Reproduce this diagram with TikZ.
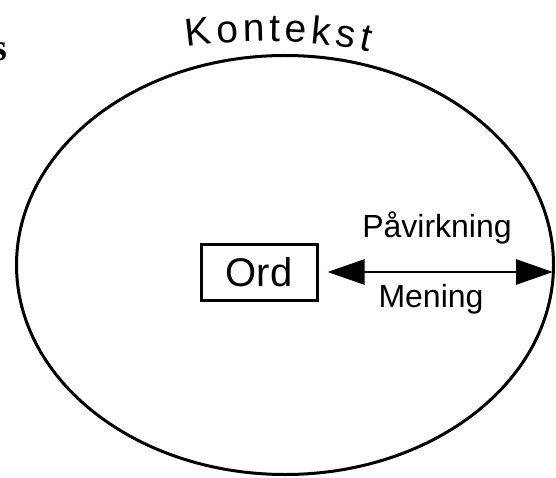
\documentclass[tikz,border=0pt]{standalone}
\usepackage{fontspec}
\setmainfont{Liberation Sans}
\newfontfamily\cutfont{Liberation Serif}
\newcommand\arcfont{\fontsize{39}{42}\selectfont}
\usepackage{tikz}
\usetikzlibrary{shapes.geometric,arrows.meta,decorations.text}

\begin{document}
\begin{tikzpicture}[x=1pt,y=1pt,
    lbl/.style={font=\fontsize{32}{35}\selectfont, inner sep=0pt},
    twoway/.style={{Triangle[length=37pt,width=25pt]}-{Triangle[length=37pt,width=25pt]}, line width=2.5pt}]
    \useasboundingbox (0,0) rectangle (556,477);

    % Draw the context ellipse and the word box
    \node[ellipse, draw, line width=3pt, inner sep=0pt,
          minimum width=537, minimum height=419] (ctx) at (285,212) {};
    \node[draw, line width=3pt, minimum width=116, minimum height=56,
          font=\fontsize{40}{44}\selectfont] (ord) at (259,205) {Ord};

    % Add the arrow between word and context
    \draw[twoway, shorten <=9pt, shorten >=2pt] (ord.east) -- (ord.east -| ctx.east);

    % Add labels
    \node[lbl, anchor=base] (pav) at (437,240) {Påvirkning};
    \node[lbl, anchor=base] (men) at (431,170) {Mening};
    \path[decorate, decoration={text along path, text align={fit to path},
          text format delimiters={[}{]},
          text={[\arcfont]Kontekst}}]
        (187,430) .. controls (245,438) and (315,438) .. (369,425);
    \node[anchor=east, inner sep=0pt, font=\cutfont\bfseries\fontsize{38}{40}\selectfont] (cut) at (7,425) {s};
\end{tikzpicture}
\end{document}
